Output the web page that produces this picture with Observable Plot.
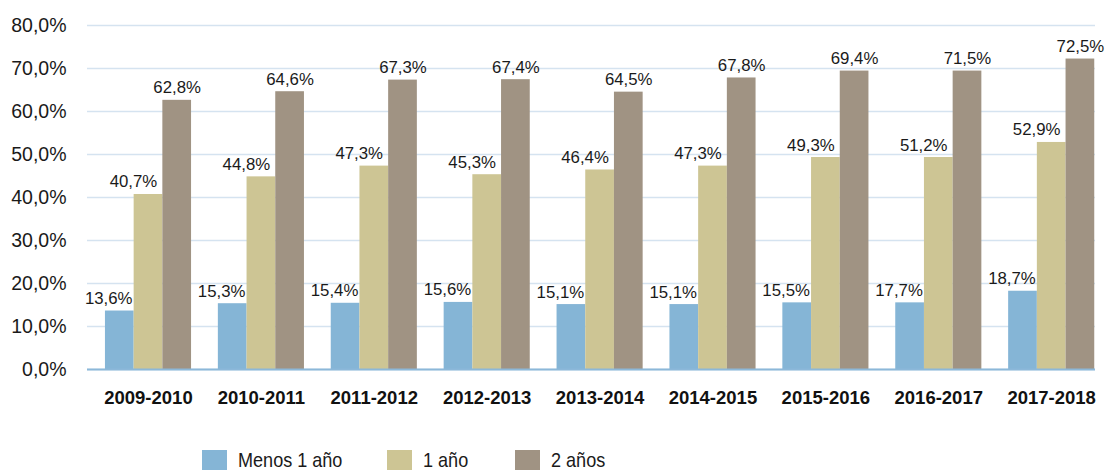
<!DOCTYPE html>
<html><head><meta charset="utf-8">
<script src="https://cdn.jsdelivr.net/npm/d3@7"></script>
<script src="https://cdn.jsdelivr.net/npm/@observablehq/plot@0.6"></script>
<style>
body{margin:0;background:#fff;overflow:hidden}
#legend{display:flex;padding-left:202px;height:25px;font-family:"Liberation Sans",Arial,sans-serif;font-size:21px;color:#1a1a1a}
.item{display:flex;align-items:flex-end;line-height:20px}
.sw{width:25px;height:20px;margin-right:11px;flex:none}
.item span{display:inline-block;transform:scaleX(0.86);transform-origin:left bottom;white-space:nowrap}
</style></head><body><div id="chart"></div><div id="legend"></div>
<script>
const years = ["2009-2010","2010-2011","2011-2012","2012-2013","2013-2014","2014-2015","2015-2016","2016-2017","2017-2018"];
const seriesNames = ["Menos 1 año","1 año","2 años"];
const colors = ["#85b5d6","#cdc594","#a09383"];
// bar heights as drawn in the picture
const menos1 = [13.6,15.3,15.4,15.6,15.1,15.1,15.5,15.5,18.2];
const unAno  = [40.7,44.8,47.3,45.3,46.4,47.3,49.3,49.3,52.8];
const dosAnos= [62.6,64.6,67.3,67.4,64.5,67.8,69.4,69.4,72.2];
// values printed in the labels
const menos1Labels = [13.6,15.3,15.4,15.6,15.1,15.1,15.5,17.7,18.7];
const unAnoLabels  = [40.7,44.8,47.3,45.3,46.4,47.3,49.3,51.2,52.9];
const dosAnosLabels= [62.8,64.6,67.3,67.4,64.5,67.8,69.4,71.5,72.5];
const yTicks = [0,10,20,30,40,50,60,70,80];

const bars = [menos1, unAno, dosAnos];
const labels = [menos1Labels, unAnoLabels, dosAnosLabels];
const rows = [];
years.forEach((yr,i)=>bars.forEach((arr,k)=>rows.push({year:yr, s:k, v:arr[i], label:labels[k][i]})));
const fmt = v => v.toFixed(1).replace(".", ",") + "%";

const insets = [[13.45,70.75],[42.15,42.05],[70.85,13.35]];
const labelDx = [-39.7,-15,28.7];

const marks = [
  Plot.gridY(yTicks, {stroke:"#d5e3f0", strokeOpacity:1, strokeWidth:1.5}),
  Plot.axisY({ticks:yTicks, tickFormat:fmt, tickSize:0, tickPadding:21, fontSize:19.5, fill:"#1a1a1a", label:null}),
  Plot.axisX({tickSize:0, tickPadding:21, fontSize:18.5, fontWeight:"bold", fill:"#111", label:null})
];
seriesNames.forEach((name,k)=>{
  const d = rows.filter(r=>r.s===k);
  marks.push(Plot.barY(d, {x:"year", y:"v", fill:colors[k], insetLeft:insets[k][0], insetRight:insets[k][1]}));
});
marks.push(Plot.ruleY([0], {stroke:"#8cb8d9", strokeWidth:2}));
seriesNames.forEach((name,k)=>{
  const d = rows.filter(r=>r.s===k);
  marks.push(Plot.text(d, {x:"year", y:"v", text:r=>fmt(r.label), dx:labelDx[k], dy:-7, lineAnchor:"bottom", fontSize:16.8, fill:"#1a1a1a"}));
});

const chart = Plot.plot({
  width:1107, height:445,
  marginLeft:87, marginRight:12, marginTop:25, marginBottom:76,
  style:{fontFamily:"'Liberation Sans', Arial, Helvetica, sans-serif", background:"#fff", overflow:"visible"},
  x:{domain:years, range:[91.5,1107.6], padding:0, round:false},
  y:{domain:[0,80]},
  marks
});
document.getElementById("chart").appendChild(chart);

const itemWidths = ["185px","128px","auto"];
const legend = document.getElementById("legend");
seriesNames.forEach((name,k)=>{
  const it = document.createElement("div");
  it.className = "item"; it.style.width = itemWidths[k];
  const sw = document.createElement("div"); sw.className="sw"; sw.style.background = colors[k];
  const tx = document.createElement("span"); tx.textContent = name;
  it.appendChild(sw); it.appendChild(tx); legend.appendChild(it);
});
</script></body></html>
